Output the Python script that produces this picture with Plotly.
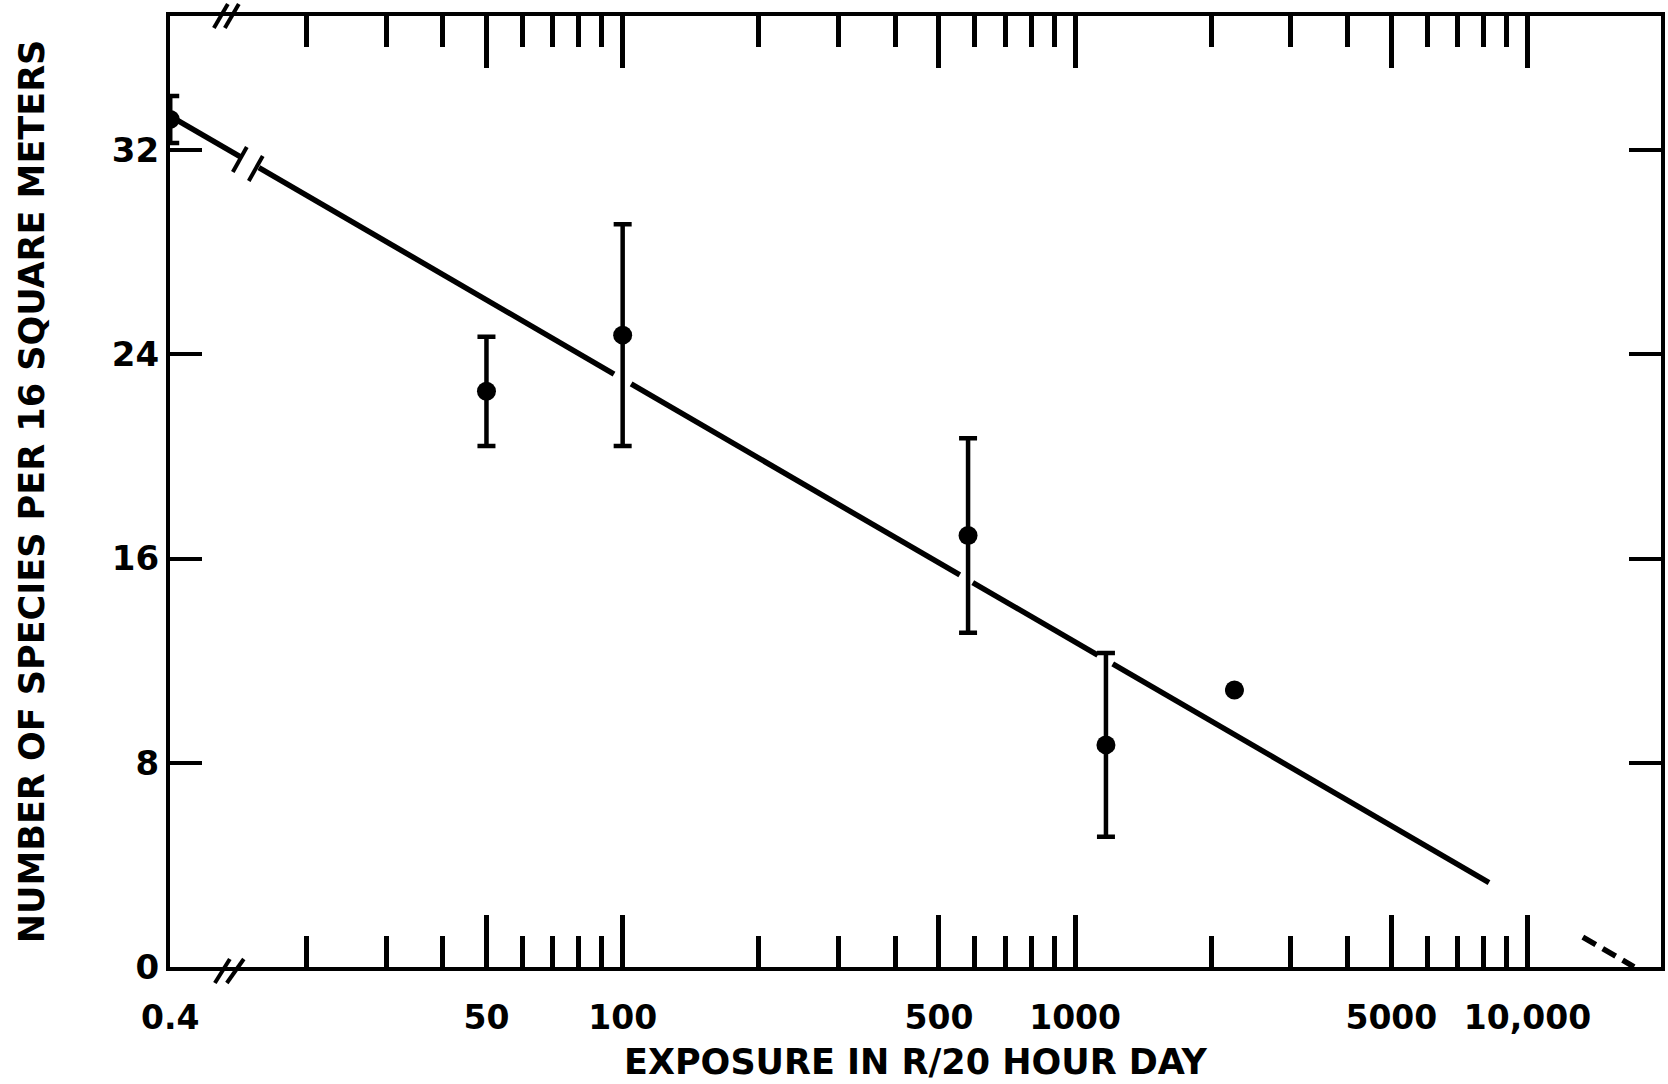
import math
import plotly.graph_objects as go

# ---------------- data ----------------
exposure = [0.4, 50, 100, 580, 1170, 2250]          # R / 20 hour day
species = [33.2, 22.55, 24.75, 16.9, 8.7, 10.85]    # species per 16 m^2
species_err = [0.92, 2.14, 4.34, 3.81, 3.6, None]

# the control (0.4 R) sits just left of the axis break, drawn where 10 would fall
control_value = 0.4
control_display = 10

# fitted regression line: y = FIT_AT_100 + FIT_SLOPE * (log10(x) - 2)
FIT_AT_100 = 23.03
FIT_SLOPE = -10.30
# stretches where the pen drew the fitted line (display units)
fit_segments = [(10, 14.3), (15.7, 95.7), (104.4, 556), (594, 1122), (1211, 8220)]
fit_extension = (13250, 17200)  # dashed extrapolation to zero

x_tickvals = [10, 50, 100, 500, 1000, 5000, 10000]
x_ticktext = ["0.4", "50", "100", "500", "1000", "5000", "10,000"]
x_minor = [20, 30, 40, 60, 70, 80, 90, 200, 300, 400, 600, 700, 800, 900,
           2000, 3000, 4000, 6000, 7000, 8000, 9000]
y_tickvals = [0, 8, 16, 24, 32]

# ---------------- figure ----------------
W, H = 1668, 1084
L, R, T, B = 170, 3, 16, 117
XR = [math.log10(10) - 0.0005, 4.295]
YR = [0, 37.25]
INK = "#000000"
FONT = "DejaVu Sans"

disp_x = [control_display if v == control_value else v for v in exposure]


def fit(x):
    return FIT_AT_100 + FIT_SLOPE * (math.log10(x) - 2)


line_x, line_y = [], []
for a, b in fit_segments:
    line_x += [a, b, None]
    line_y += [fit(a), fit(b), None]

fig = go.Figure()
fig.add_trace(go.Scatter(
    x=line_x, y=line_y, mode="lines",
    line=dict(color=INK, width=5.5), hoverinfo="skip", showlegend=False))
fig.add_trace(go.Scatter(
    x=list(fit_extension), y=[fit(v) for v in fit_extension], mode="lines",
    line=dict(color=INK, width=5.5, dash="15px,8px"), hoverinfo="skip",
    showlegend=False))
fig.add_trace(go.Scatter(
    x=disp_x, y=species, mode="markers",
    marker=dict(color=INK, size=19),
    error_y=dict(type="data", array=species_err, visible=True,
                 color=INK, thickness=4.5, width=9),
    customdata=exposure,
    hovertemplate="%{customdata} R/day: %{y}<extra></extra>",
    showlegend=False))

# break marks (pixel positions converted to paper coordinates)
pw, ph = W - L - R, H - T - B


def px(xp):
    return (xp - L) / pw


def py(yp):
    return (H - B - yp) / ph


breaks = [
    ((215, 983), (230, 959)), ((227, 983), (244, 959)),   # bottom axis //
    ((214, 28), (228, 4)), ((225, 28), (239, 4)),         # top axis //
    ((247, 147), (233, 172)), ((263, 156), (249, 181)),   # fitted line break
]
shapes = []
for (x0, y0), (x1, y1) in breaks:
    shapes.append(dict(type="line", xref="paper", yref="paper",
                       x0=px(x0), y0=py(y0), x1=px(x1), y1=py(y1),
                       line=dict(color=INK, width=4)))

fig.update_layout(
    width=W, height=H, autosize=False,
    margin=dict(l=L, r=R, t=T, b=B, pad=0),
    paper_bgcolor="white", plot_bgcolor="white",
    font=dict(family=FONT, color=INK),
    shapes=shapes,
    xaxis=dict(
        type="log", range=XR,
        tickmode="array", tickvals=x_tickvals, ticktext=x_ticktext,
        ticks="inside", ticklen=52, tickwidth=4.5, tickcolor=INK,
        minor=dict(tickmode="array", tickvals=x_minor, ticks="inside",
                   ticklen=31, tickwidth=4.5, tickcolor=INK, showgrid=False),
        showline=True, linecolor=INK, linewidth=4, mirror="ticks",
        showgrid=False, zeroline=False,
        tickfont=dict(family=FONT, size=33, weight="bold", color=INK),
        ticklabelstandoff=18,
        title=dict(text="EXPOSURE IN R/20 HOUR DAY", standoff=15,
                   font=dict(family=FONT, size=35, weight="bold", color=INK)),
    ),
    yaxis=dict(
        range=YR, tickmode="array", tickvals=y_tickvals,
        ticks="inside", ticklen=32, tickwidth=4, tickcolor=INK,
        showline=True, linecolor=INK, linewidth=4, mirror="ticks",
        showgrid=False, zeroline=False,
        tickfont=dict(family=FONT, size=34, weight="bold", color=INK),
        ticklabelstandoff=0,
        title=dict(text="NUMBER OF SPECIES PER 16 SQUARE METERS", standoff=58,
                   font=dict(family=FONT, size=35, weight="bold", color=INK)),
    ),
)

fig.write_html("out.html", config={"displayModeBar": False},
               post_script="document.body.style.margin='0';")
